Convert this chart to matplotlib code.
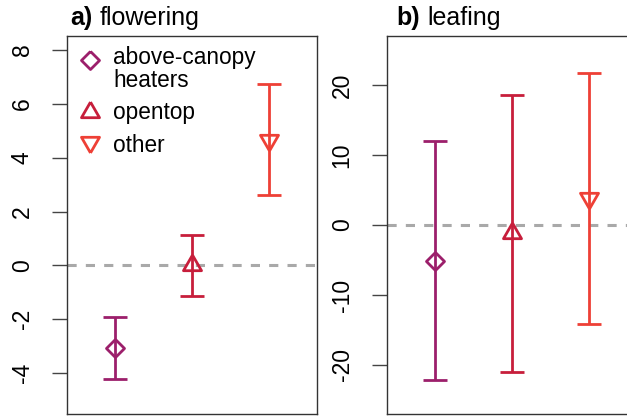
import matplotlib
matplotlib.use("Agg")
import matplotlib.pyplot as plt
import numpy as np

plt.rcParams['font.family'] = ['Liberation Sans', 'DejaVu Sans']

# treatment groups and colours
groups = ["above-canopy\nheaters", "opentop", "other"]
colors = ["#9C1F6B", "#C71E3B", "#EE4036"]
xpos = [1, 2, 3]

# a) flowering
flower_mean = [-3.08, 0.02, 4.67]
flower_lo = [-4.22, -1.13, 2.62]
flower_hi = [-1.92, 1.14, 6.72]

# b) leafing
leaf_mean = [-5.2, -1.2, 3.8]
leaf_lo = [-22.2, -21.0, -14.1]
leaf_hi = [12.0, 18.6, 21.7]

# equilateral triangles centred on centroid, like R pch 2 / 6
tri_up = [(0, 1.155), (-1, -0.577), (1, -0.577), (0, 1.155)]
tri_down = [(0, -1.155), (-1, 0.577), (1, 0.577), (0, -1.155)]
diamond = [(0, 1), (1, 0), (0, -1), (-1, 0), (0, 1)]
markers = [diamond, tri_up, tri_down]
msizes = [13, 15, 15]

fig = plt.figure(figsize=(6.27, 4.17), dpi=100)
ax_a = fig.add_axes([0.1069, 0.0072, 0.3987, 0.9065])
ax_b = fig.add_axes([0.6172, 0.0072, 0.3987, 0.9065])


def panel(ax, mean, lo, hi, ylim, ticks, letter, name, lx, nx):
    ax.axhline(0, color="#A9A9A9", lw=2.2, dashes=(3, 3), zorder=1)
    for i in range(len(mean)):
        ax.errorbar(xpos[i], mean[i],
                    yerr=[[mean[i] - lo[i]], [hi[i] - mean[i]]],
                    fmt="none", ecolor=colors[i], elinewidth=2,
                    capsize=8.3, capthick=2, zorder=2)
        ax.plot(xpos[i], mean[i], marker=markers[i], ms=msizes[i],
                mfc="none", mec=colors[i], mew=2, zorder=3)
    ax.set_xlim(0.38, 3.62)
    ax.set_ylim(*ylim)
    ax.set_xticks([])
    ax.set_yticks(ticks)
    ax.set_yticklabels([str(t) for t in ticks], rotation=90, va="center")
    ax.tick_params(axis="y", length=11, width=1, color="#444444",
                   pad=13, labelsize=16.5)
    for s in ax.spines.values():
        s.set_linewidth(1)
        s.set_color("#333333")
    ax.text(lx, 1 + 10.5 / 378, letter, transform=ax.transAxes,
            fontsize=18, fontweight="bold", va="baseline", ha="left")
    ax.text(nx, 1 + 10.5 / 378, name, transform=ax.transAxes,
            fontsize=18, va="baseline", ha="left")


panel(ax_a, flower_mean, flower_lo, flower_hi, (-5.52, 8.52),
      [-4, -2, 0, 2, 4, 6, 8], "a)", "flowering", 0.012, 0.132)
panel(ax_b, leaf_mean, leaf_lo, leaf_hi, (-27, 27),
      [-20, -10, 0, 10, 20], "b)", "leafing", 0.039, 0.162)

# legend drawn by hand, R style
mark_y = [0.9365, 0.799, 0.7196]
text_y = [0.926, 0.780, 0.693]
for i in range(len(groups)):
    ax_a.plot(0.092, mark_y[i], marker=markers[i], ms=msizes[i],
              mfc="none", mec=colors[i], mew=2, transform=ax_a.transAxes,
              clip_on=False)
    lines = groups[i].split("\n")
    for j, ln in enumerate(lines):
        ax_a.text(0.184, text_y[i] - j * 0.062, ln, transform=ax_a.transAxes,
                  fontsize=16.3, va="baseline", ha="left")

fig.savefig("out.png", dpi=100)
